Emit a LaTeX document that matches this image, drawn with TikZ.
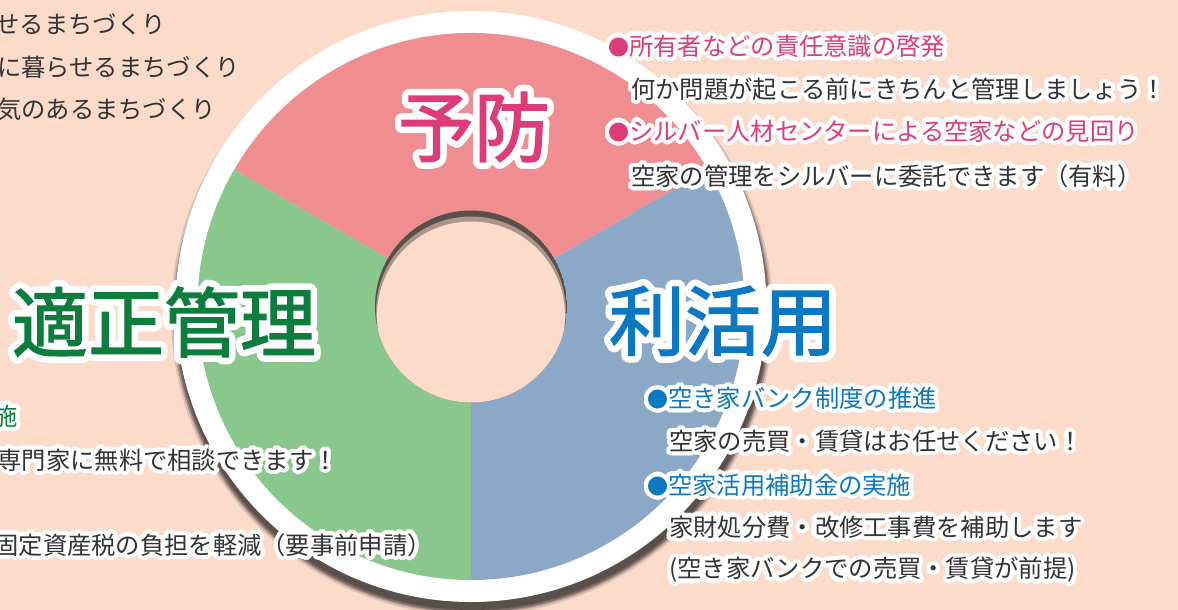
\documentclass[tikz,border=0pt]{standalone}
\usepackage{fontspec}
\setmainfont{Noto Sans CJK JP}
\newfontfamily\titlefont[FakeBold=1.8]{Noto Sans CJK JP}
\usetikzlibrary{calc}

\definecolor{bgpeach}{HTML}{FCDBCB}
\definecolor{pinkseg}{HTML}{F08D91}
\definecolor{greenseg}{HTML}{89C78D}
\definecolor{blueseg}{HTML}{8BA8C7}
\definecolor{shadowgray}{HTML}{5B4F4B}
\definecolor{pinktxt}{HTML}{DE3C78}
\definecolor{bluetxt}{HTML}{0B78C3}
\definecolor{greentxt}{HTML}{0C7D3D}
\definecolor{darktxt}{HTML}{333333}

% text with a white rim: white copies all round, then the named node
\newcommand{\halotext}[5][4.2]{%
  \foreach \a in {0,15,...,345}
    \node[#3, text=white] at ($(#4)+(\a:#1)$) {#5};
  \node[#3] (#2) at (#4) {#5};}
\newcommand{\dotmark}{{\fontsize{21}{21}\selectfont ●}}

\tikzset{
  body/.style={inner sep=0pt, font=\fontsize{24.3}{28}\selectfont},
  plain/.style={body, text=darktxt},
  note/.style={body, text=darktxt},
  pinkhead/.style={body, text=pinktxt},
  bluehead/.style={body, text=bluetxt},
  greenhead/.style={body, text=greentxt},
  title/.style={inner sep=0pt, font=\titlefont\fontsize{76}{80}\selectfont},
}

\begin{document}
\begin{tikzpicture}[x=1pt,y=1pt]
  \useasboundingbox (0,0) rectangle (1178,-610);
  \fill[bgpeach] (0,0) rectangle (1178,-610);
  \coordinate (C) at (471,-306.5);

  % ring with its shadow
  \foreach \r/\o in {301/0.2,299/0.35,297.5/0.6}
    \fill[shadowgray, opacity=\o] ($(C)+(1,-8)$) circle (\r);
  \fill[shadowgray] ($(C)+(1,-8)$) circle (295.5);
  \fill[white] (C) circle (295.5);
  \fill[pinkseg] (C) -- +(30:273.5) arc[start angle=30, end angle=150, radius=273.5] -- cycle;
  \fill[greenseg] (C) -- +(150:273.5) arc[start angle=150, end angle=270, radius=273.5] -- cycle;
  \fill[blueseg] (C) -- +(270:273.5) arc[start angle=270, end angle=390, radius=273.5] -- cycle;

  % hole with inner shadow
  \begin{scope}
    \clip (C) circle (96);
    \fill[shadowgray] (C) circle (96);
    \fill[bgpeach, opacity=0.5] ($(C)+(0,-5)$) circle (95);
    \fill[bgpeach] ($(C)+(0,-9)$) circle (94);
  \end{scope}

  % titles
  \halotext[6.5]{yobou}{title, text=pinktxt}{474,-127}{予防}
  \halotext[6.5]{katsuyou}{title, text=bluetxt}{723,-321}{利活用}
  \halotext[6.5]{kanri}{title, text=greentxt}{164,-322}{適正管理}

  % top left
  \node[plain, anchor=east] (goal1) at (166,-24) {せるまちづくり};
  \node[plain, anchor=east] (goal2) at (240,-67) {に暮らせるまちづくり};
  \node[plain, anchor=east] (goal3) at (216,-109) {気のあるまちづくり};

  % prevention
  \halotext{yobou1}{pinkhead, anchor=west}{608,-46}{\dotmark 所有者などの責任意識の啓発}
  \halotext{yobou1n}{note, anchor=west}{631,-89}{何か問題が起こる前にきちんと管理しましょう！}
  \halotext{yobou2}{pinkhead, anchor=west}{608,-131}{\dotmark シルバー人材センターによる空家などの見回り}
  \halotext{yobou2n}{note, anchor=west}{631,-176}{空家の管理をシルバーに委託できます（有料）}

  % utilisation
  \halotext{katsu1}{bluehead, anchor=west}{647,-398}{\dotmark 空き家バンク制度の推進}
  \halotext{katsu1n}{note, anchor=west}{669,-441}{空家の売買・賃貸はお任せください！}
  \halotext{katsu2}{bluehead, anchor=west}{647,-485}{\dotmark 空家活用補助金の実施}
  \halotext{katsu2n}{note, anchor=west}{669,-527}{家財処分費・改修工事費を補助します}
  \halotext{katsu2m}{note, anchor=west}{669,-570}{(空き家バンクでの売買・賃貸が前提)}

  % management
  \halotext{kanri1}{greenhead, anchor=east}{18,-416}{施}
  \halotext{kanri1n}{note, anchor=east}{338,-460}{専門家に無料で相談できます！}
  \halotext{kanri2n}{note, anchor=east}{432,-545}{固定資産税の負担を軽減（要事前申請）}
\end{tikzpicture}
\end{document}
